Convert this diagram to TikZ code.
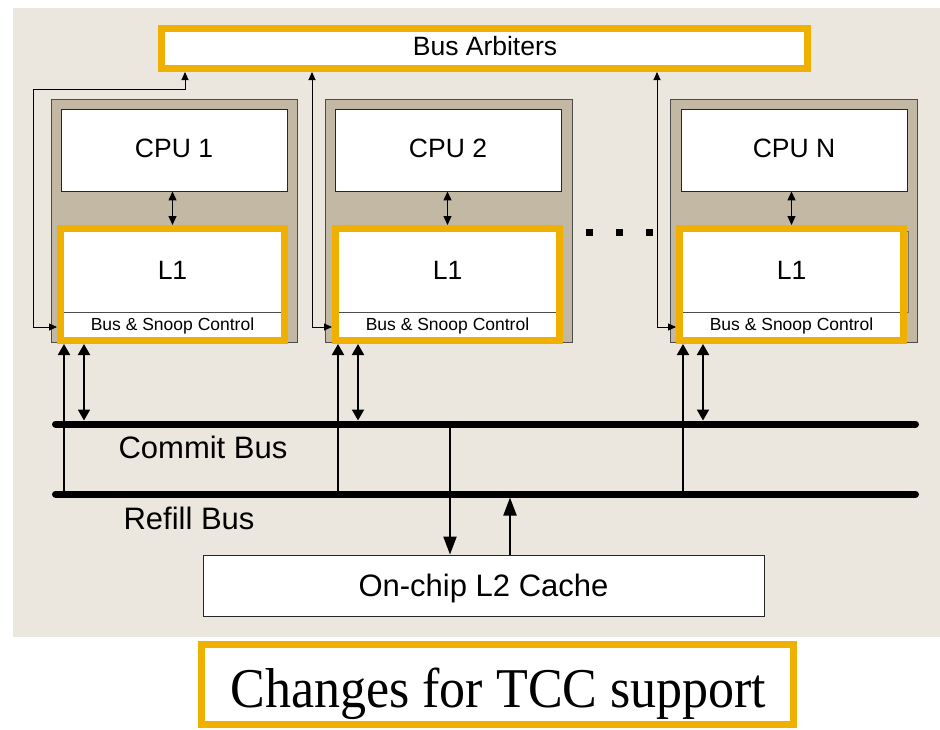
\documentclass[tikz,border=0pt]{standalone}
\usepackage{fontspec}
\setmainfont{Liberation Sans}
\newfontfamily\capfont{Liberation Serif}
\usetikzlibrary{arrows.meta}
\definecolor{panel}{RGB}{235,231,222}
\definecolor{tilefill}{RGB}{195,184,164}
\definecolor{gold}{RGB}{240,176,0}
\begin{document}
\begin{tikzpicture}[x=1pt,y=-1pt,
  every node/.style={inner sep=0pt},
  hilite/.style={draw=gold, line width=7pt, fill=white},
  tile/.style={draw=black!70, line width=0.9pt, fill=tilefill},
  unit/.style={draw=black!85, line width=0.9pt, fill=white},
  lbl/.style={font=\fontsize{26.5}{28}\selectfont},
  snooplbl/.style={font=\fontsize{17.5}{19}\selectfont},
  buslbl/.style={font=\fontsize{31}{33}\selectfont},
  bus/.style={line width=7pt, line cap=round},
  arblink/.style={line width=0.9pt, {Triangle[length=8pt,width=7pt]}-{Triangle[length=8pt,width=7pt]}},
  corelink/.style={line width=1.2pt, {Triangle[length=9pt,width=8pt]}-{Triangle[length=9pt,width=8pt]}},
  uplink/.style={line width=2pt, -{Triangle[length=11pt,width=12pt]}},
  duallink/.style={line width=2pt, {Triangle[length=11pt,width=12pt]}-{Triangle[length=11pt,width=12pt]}},
  ltwolink/.style={line width=2pt, -{Triangle[length=18pt,width=13pt]}}]

\useasboundingbox (0,0) rectangle (940,729);
\fill[panel] (13,8) rectangle (940,637);

% arbiter block
\node[hilite, minimum width=646pt, minimum height=40pt] (arb) at (484.5,48.5) {};
\node[lbl, anchor=base] (arbtext) at (485,55) {Bus Arbiters};

% processor tiles with their CPUs
\foreach \n/\tL/\tR/\cL/\cR/\lab in {a/51/297/61/287/1, b/325/572/335/561/2, c/670/917/681/907/N}{
  \node[tile, minimum width={(\tR-\tL)*1pt}, minimum height=243pt] (tile\n) at ({(\tL+\tR)/2},220.5) {};
  \node[unit, minimum width={(\cR-\cL)*1pt}, minimum height=82pt] (cpu\n) at ({(\cL+\cR)/2},150) {};
  \node[lbl, anchor=base] (cput\n) at ({(\cL+\cR)/2},157.5) {CPU \lab};
}

% edge of the original L1 box peeking out in the last tile
\draw[black!55, line width=0.8pt] (900,231) -- (908,231) -- (908,312) -- (900,312);

% buses
\coordinate (cbw) at (55.5,424); \coordinate (cbe) at (915.5,424);
\coordinate (rbw) at (55.5,494); \coordinate (rbe) at (915.5,494);

% L1 caches with bus & snoop control, and their links
\foreach \n/\oL/\oR/\ua/\ub in {a/57/288/64/84, b/332/563/338/358, c/676/907/683/703}{
  \node[hilite, minimum width={(\oR-\oL-7)*1pt}, minimum height=112pt] (lone\n) at ({(\oL+\oR)/2},284.5) {};
  \draw[black!70, line width=0.8pt] ({\oL+7},312) -- ({\oR-7},312);
  \node[lbl] (lonet\n) at ({(\oL+\oR)/2},270) {L1};
  \node[snooplbl, anchor=base] (snoop\n) at ({(\oL+\oR)/2},330) {Bus \& Snoop Control};
  \draw[corelink] (cpu\n.south -| lone\n.north) -- (lone\n.north);
  \coordinate (rf\n) at (\ua,494);
  \coordinate (cm\n) at (\ub,420.5);
  \draw[uplink] (rf\n) -- (rf\n |- lone\n.south);
  \draw[duallink] (lone\n.south -| cm\n) -- (cm\n);
}

% arbitration request lines
\draw[arblink] (arb.south -| 185,0) -- (185,89) -| (33,327) -- (lonea.west |- 0,327);
\draw[arblink] (arb.south -| 312,0) |- (loneb.west |- 0,327);
\draw[arblink] (arb.south -| 657,0) |- (lonec.west |- 0,327);

% ellipsis between tiles
\foreach \x in {589,619,649} \fill ({\x-3.5},228.5) rectangle ({\x+3.5},235.5);

\draw[bus] (cbw) -- (cbe);
\draw[bus] (rbw) -- (rbe);
\node[buslbl] (cmlbl) at (203,447) {Commit Bus};
\node[buslbl] (rflbl) at (189,518) {Refill Bus};

% shared L2
\node[unit, buslbl, text depth=0pt, minimum width=561pt, minimum height=61pt] (ltwo) at (483.5,585.5) {On-chip L2 Cache};
\coordinate (down) at (450,424);
\coordinate (up) at (510,497.5);
\draw[ltwolink] (down) -- (down |- ltwo.north);
\draw[ltwolink] (up |- ltwo.north) -- (up);

% caption
\node[hilite, minimum width=592pt, minimum height=80pt] (capbox) at (497.5,684.5) {};
\node[anchor=base, font=\capfont\fontsize{52}{56}\selectfont] (captext) at (498.5,707) {\scalebox{1}[1.08]{Changes for TCC support}};
\end{tikzpicture}
\end{document}
